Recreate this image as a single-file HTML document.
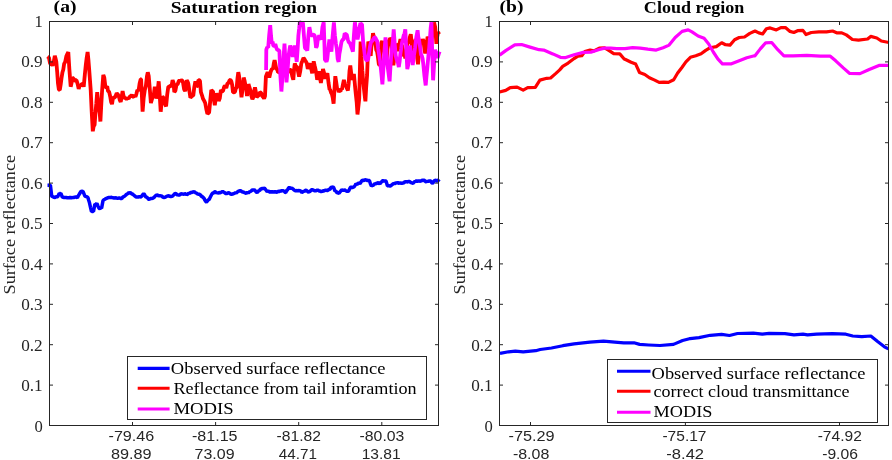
<!DOCTYPE html>
<html><head><meta charset="utf-8"><title>Surface reflectance</title>
<style>
html,body{margin:0;padding:0;background:#fff;}
body{width:892px;height:460px;overflow:hidden;}
svg{display:block;will-change:transform;opacity:0.999;}
text{font-family:"Liberation Serif",serif;fill:#262626;}
.ln{fill:none;stroke-width:3.5;stroke-linejoin:bevel;stroke-linecap:butt;}
.rn{stroke-width:3.2;stroke-linejoin:round;}
.yt{font-size:16px;}
.xt{font-family:"Liberation Sans",sans-serif;font-size:14.5px;}
.ti{font-size:17.6px;font-weight:bold;fill:#000;}
.yl{font-size:17.6px;}
.lg{font-size:17px;fill:#000;}
</style></head><body>
<svg width="892" height="460" viewBox="0 0 892 460">
<rect width="892" height="460" fill="#fff"/>
<path d="M47.5,185.2 L48.4,185.2 L49.4,185.1 L50.4,185.2 L51.7,196.0 L52.6,196.7 L53.5,197.0 L54.4,197.6 L55.3,197.3 L56.1,196.8 L57.0,196.8 L57.8,196.7 L59.2,193.3 L60.0,193.7 L60.9,193.3 L62.3,197.1 L63.2,197.3 L64.2,197.6 L65.2,197.4 L66.2,197.5 L67.2,197.7 L68.3,197.7 L69.3,197.8 L70.3,197.1 L71.3,197.9 L72.3,197.6 L73.3,197.4 L74.3,197.6 L75.3,197.0 L76.3,197.1 L77.4,197.8 L78.4,195.6 L79.4,194.0 L80.3,192.5 L81.1,191.3 L82.1,191.4 L83.0,191.3 L83.9,193.6 L84.8,196.0 L85.8,196.6 L86.8,196.7 L87.9,197.4 L88.7,200.2 L89.5,202.8 L90.5,207.3 L91.5,211.5 L92.5,211.3 L93.5,211.5 L94.9,204.1 L95.9,204.4 L96.9,203.4 L97.9,206.0 L98.9,208.1 L99.8,208.6 L100.7,207.9 L101.6,208.1 L103.0,200.7 L103.9,199.8 L104.8,199.3 L105.7,198.7 L106.6,198.2 L107.5,198.0 L108.4,197.4 L109.4,197.5 L110.4,197.4 L111.4,197.3 L112.4,197.8 L113.4,197.6 L114.4,198.3 L115.4,197.7 L116.5,198.0 L117.4,198.2 L118.3,198.3 L119.3,197.8 L120.2,198.4 L121.2,198.4 L122.0,198.4 L122.9,196.7 L123.7,196.7 L124.5,196.3 L125.6,195.3 L126.6,194.2 L127.6,193.7 L128.6,192.6 L129.6,193.0 L130.6,192.8 L131.6,193.9 L132.6,194.0 L133.6,195.0 L134.7,195.9 L135.7,196.8 L136.7,197.1 L137.6,197.1 L138.6,197.0 L139.5,196.4 L140.5,197.0 L141.4,196.7 L142.2,195.4 L142.9,194.5 L143.7,193.6 L144.6,194.7 L145.4,196.7 L146.5,197.0 L147.5,197.8 L148.5,199.2 L149.5,199.4 L150.4,198.4 L151.3,198.4 L152.2,198.7 L153.0,198.0 L153.9,197.7 L154.7,196.7 L155.6,195.7 L156.6,195.1 L157.6,194.9 L158.6,195.9 L159.6,195.7 L160.0,195.7 L161.0,195.9 L162.0,196.2 L163.0,197.3 L164.0,197.4 L165.1,197.3 L166.1,196.6 L167.1,196.2 L168.1,195.7 L169.1,196.0 L170.1,196.6 L171.1,196.4 L172.1,196.3 L173.0,195.6 L173.9,194.7 L174.8,193.6 L175.8,193.4 L176.9,194.7 L177.9,194.9 L178.9,194.9 L179.9,194.9 L180.9,193.8 L181.9,194.0 L182.9,194.0 L183.9,194.4 L184.9,193.6 L186.0,194.2 L187.0,194.4 L187.8,194.3 L188.7,193.1 L189.5,193.6 L190.3,192.6 L191.3,192.6 L192.4,192.1 L193.4,192.0 L194.4,191.7 L195.3,192.6 L196.2,193.0 L197.1,193.6 L197.9,194.3 L198.8,194.0 L199.6,194.4 L200.4,194.9 L201.3,196.1 L202.2,196.6 L203.1,197.4 L204.0,198.2 L204.8,200.0 L205.7,201.4 L206.5,202.1 L207.4,201.0 L208.3,199.8 L209.2,199.4 L210.1,197.5 L211.0,195.7 L211.9,194.0 L212.8,193.1 L213.7,193.0 L214.6,191.7 L215.4,191.7 L216.3,192.9 L217.1,192.5 L218.0,193.3 L218.9,192.6 L219.9,192.7 L220.8,192.5 L221.8,192.0 L222.7,191.3 L223.5,192.0 L224.4,192.5 L225.2,193.1 L226.1,193.6 L227.0,193.5 L227.9,192.9 L228.8,192.6 L229.7,193.3 L230.6,194.0 L231.5,194.4 L232.5,194.0 L233.5,193.8 L234.5,193.3 L235.5,192.6 L236.4,192.9 L237.4,191.9 L238.3,191.3 L239.3,190.9 L240.2,190.6 L241.2,191.1 L242.2,192.0 L243.3,192.0 L244.3,192.6 L245.3,192.9 L246.3,193.5 L247.3,192.0 L248.3,193.0 L249.3,191.9 L250.3,191.6 L251.3,190.9 L252.4,189.9 L253.4,190.0 L254.4,189.9 L255.3,190.7 L256.2,192.0 L257.1,192.6 L257.9,191.8 L258.8,190.6 L259.6,190.8 L260.4,189.0 L261.5,188.9 L262.5,188.4 L263.5,188.4 L264.5,188.2 L265.4,189.3 L266.3,190.5 L267.2,191.7 L268.1,190.8 L269.1,191.6 L270.0,192.2 L271.0,191.5 L271.9,192.0 L272.9,191.8 L274.0,192.1 L275.0,191.7 L276.0,192.0 L277.0,192.2 L278.0,191.1 L279.0,191.7 L279.9,191.2 L280.7,190.9 L281.6,190.9 L282.4,190.3 L283.3,191.2 L284.1,190.5 L284.9,192.3 L285.8,192.5 L286.7,190.5 L287.6,189.8 L288.5,188.0 L289.3,187.5 L290.2,188.1 L291.0,188.5 L291.9,188.0 L292.7,188.7 L293.5,189.4 L294.4,190.3 L295.2,190.7 L296.2,190.7 L297.2,190.5 L298.3,191.0 L299.3,190.3 L300.1,191.1 L301.0,191.1 L301.8,192.6 L302.6,192.1 L303.5,191.2 L304.3,191.4 L305.2,190.5 L306.0,190.1 L306.9,190.8 L307.8,191.6 L308.7,192.1 L309.5,191.6 L310.4,191.2 L311.2,189.8 L312.1,189.8 L312.9,189.6 L313.8,190.7 L314.6,190.5 L315.4,191.1 L316.3,190.5 L317.2,190.1 L318.1,190.3 L319.2,191.0 L320.2,191.1 L321.2,191.6 L322.2,191.4 L323.2,190.8 L324.2,190.9 L325.2,190.2 L326.2,190.3 L327.1,190.4 L327.9,190.4 L328.8,189.3 L329.6,189.4 L330.5,188.6 L331.4,186.7 L332.1,187.3 L332.9,187.1 L333.6,187.4 L335.0,191.1 L336.0,191.0 L337.0,192.8 L338.0,192.8 L339.0,193.4 L339.9,192.0 L340.8,191.1 L341.7,189.8 L342.6,190.1 L343.4,190.6 L344.3,189.8 L345.1,190.3 L346.0,190.9 L346.8,191.2 L347.6,191.4 L348.5,191.1 L349.5,189.2 L350.5,187.4 L351.3,187.0 L352.2,187.6 L353.0,187.2 L353.9,187.1 L354.9,185.6 L355.9,184.0 L356.9,184.4 L357.9,183.7 L358.9,182.9 L359.9,183.6 L360.8,182.4 L361.7,180.8 L362.6,180.3 L363.5,180.5 L364.3,180.3 L365.2,179.8 L366.0,179.9 L366.8,180.1 L367.7,180.6 L368.5,180.5 L369.4,180.6 L370.4,183.8 L371.4,186.0 L372.2,185.4 L373.1,185.2 L373.9,184.7 L374.8,183.6 L375.8,183.9 L376.8,182.9 L377.8,183.2 L378.8,182.6 L380.0,184.0 L380.8,182.5 L381.7,181.9 L382.5,180.8 L383.4,180.6 L384.3,181.2 L385.2,180.6 L386.1,181.3 L387.4,185.7 L388.3,185.8 L389.1,185.8 L389.9,185.9 L390.8,186.0 L391.7,184.9 L392.6,184.3 L393.5,183.3 L394.5,183.8 L395.5,183.0 L396.5,183.0 L397.5,182.6 L398.5,183.2 L399.5,183.0 L400.6,182.9 L401.6,183.6 L402.6,183.0 L403.6,183.1 L404.6,181.8 L405.6,182.0 L406.5,181.6 L407.3,182.0 L408.1,181.7 L409.0,181.3 L410.0,181.8 L411.0,182.6 L412.0,182.9 L413.0,183.3 L413.9,182.3 L414.7,181.6 L415.6,181.3 L416.4,180.9 L417.4,181.3 L418.4,180.9 L419.4,180.9 L420.4,181.3 L421.3,180.8 L422.1,180.3 L423.0,180.5 L423.8,180.3 L424.7,180.5 L425.6,181.6 L426.5,182.0 L427.4,180.9 L428.2,181.5 L429.0,180.9 L429.9,180.9 L430.8,181.0 L431.7,182.8 L432.6,183.3 L433.5,182.2 L434.4,180.6 L435.3,180.3 L436.3,180.5 L437.3,181.3 L438.3,180.4 L439.3,179.3" class="ln" stroke="#0000ff"/>
<path d="M47.5,56.5 L48.2,57.1 L48.9,57.4 L50.0,63.1 L51.1,65.0 L51.8,63.9 L52.6,65.7 L53.7,62.1 L54.8,55.7 L55.5,58.3 L56.3,61.7 L57.2,72.2 L58.0,83.5 L58.9,89.6 L59.8,90.0 L60.7,84.4 L61.5,78.3 L62.4,72.6 L63.3,69.4 L64.1,63.9 L65.2,61.8 L66.3,56.3 L67.3,54.1 L68.3,52.0 L69.3,68.3 L70.7,86.7 L71.5,83.3 L72.4,78.0 L73.4,78.2 L74.3,81.3 L75.4,80.2 L76.5,80.2 L77.6,83.9 L78.7,88.9 L79.8,85.3 L80.9,85.7 L81.8,83.8 L82.8,83.9 L83.7,86.7 L84.8,75.0 L85.9,63.9 L86.7,57.7 L87.6,52.0 L88.4,59.6 L89.1,68.3 L89.9,79.2 L90.7,90.0 L91.7,111.7 L92.8,131.3 L93.7,126.0 L94.6,124.8 L95.4,113.8 L96.3,103.4 L97.2,92.2 L98.0,100.9 L98.9,107.4 L99.7,113.2 L100.4,121.5 L101.2,106.2 L102.0,92.2 L103.3,74.8 L104.3,77.7 L105.4,86.7 L106.3,87.4 L107.2,86.3 L108.0,91.1 L109.1,91.7 L110.2,96.5 L111.1,102.0 L112.0,104.1 L113.0,97.6 L114.1,97.6 L115.0,97.4 L115.9,95.2 L116.7,93.3 L117.8,94.4 L118.9,96.5 L119.8,99.9 L120.7,102.0 L121.6,97.3 L122.6,91.1 L123.5,95.9 L124.3,97.6 L125.4,98.0 L126.5,99.1 L127.6,98.0 L128.7,98.7 L129.8,96.5 L130.9,96.1 L131.8,94.9 L132.8,96.6 L133.7,97.0 L134.6,94.9 L135.4,96.8 L136.3,94.3 L137.4,89.9 L138.5,91.1 L139.6,83.5 L140.7,79.1 L141.1,79.1 L141.8,94.0 L142.6,111.7 L143.7,97.7 L144.8,90.0 L145.9,85.8 L147.0,75.9 L147.8,72.3 L148.7,75.9 L149.8,89.0 L150.9,103.0 L152.0,99.0 L153.0,96.5 L153.9,94.1 L154.8,86.7 L155.7,89.7 L156.5,98.7 L157.6,91.6 L158.7,81.3 L159.7,95.4 L160.7,111.7 L161.5,103.9 L162.4,96.5 L163.4,97.7 L164.3,100.9 L165.2,104.5 L166.1,106.3 L167.2,94.8 L168.3,86.7 L169.1,86.6 L170.0,86.7 L170.9,85.1 L171.7,85.2 L172.6,80.2 L173.5,82.6 L174.3,92.2 L175.4,90.7 L176.5,84.6 L177.6,84.4 L178.7,81.3 L179.6,80.2 L180.4,81.0 L181.3,80.2 L182.2,80.6 L183.0,82.4 L184.1,89.2 L185.2,91.1 L186.0,86.0 L186.7,80.2 L187.5,81.5 L188.3,83.5 L189.3,90.2 L190.4,97.6 L191.4,96.6 L192.3,95.9 L193.3,95.4 L194.3,87.1 L195.4,81.3 L196.5,86.6 L197.6,85.7 L198.4,80.1 L199.1,80.2 L200.0,80.8 L200.9,92.2 L202.0,95.3 L203.0,98.7 L204.1,100.6 L205.2,103.0 L206.3,109.0 L207.4,113.9 L208.3,113.1 L209.1,112.8 L210.2,101.2 L211.3,90.0 L212.2,91.0 L213.0,91.1 L213.9,99.6 L214.8,105.2 L215.7,98.6 L216.5,93.3 L217.6,96.5 L218.7,100.9 L219.8,98.3 L220.9,90.0 L222.0,91.3 L223.0,91.1 L224.1,86.9 L225.2,85.7 L226.3,88.1 L227.4,83.5 L228.5,83.0 L229.6,80.2 L230.4,79.9 L231.3,81.3 L232.2,85.0 L233.0,92.2 L234.0,92.4 L235.0,91.7 L235.9,88.3 L236.7,87.4 L237.5,78.2 L238.3,72.2 L239.0,75.7 L239.8,83.0 L240.7,89.3 L241.5,97.2 L242.6,89.1 L243.7,77.6 L244.6,80.8 L245.4,85.2 L246.2,88.5 L247.0,96.1 L247.7,91.1 L248.5,84.1 L249.3,86.9 L250.2,89.6 L251.3,95.7 L252.4,99.3 L253.3,97.2 L254.1,91.1 L255.0,87.4 L255.9,92.1 L256.7,97.2 L257.8,96.0 L258.9,95.0 L260.0,92.2 L261.1,92.8 L262.2,96.0 L263.3,97.2 L264.1,98.7 L265.0,96.1 L265.9,76.5 L266.7,74.6 L267.6,72.2 L268.5,74.5 L269.3,77.6 L270.1,74.0 L270.9,71.1 L272.0,68.8 L273.0,68.9 L273.8,63.4 L274.6,60.2 L275.4,64.0 L276.3,68.9 L277.2,69.3 L278.0,72.2 L278.9,72.2 L279.8,71.3 L280.7,74.3 L281.5,73.8 L282.3,72.2 L283.1,69.4 L283.9,70.0 L284.7,67.4 L285.5,71.6 L286.4,74.1 L287.2,73.3 L288.2,71.3 L289.1,70.9 L290.1,70.0 L291.1,70.0 L292.2,75.9 L293.3,79.8 L294.0,70.3 L294.8,63.5 L295.9,66.6 L297.0,66.7 L298.0,71.2 L299.1,76.5 L300.2,71.4 L301.3,63.5 L302.4,60.8 L303.5,58.0 L304.6,59.3 L305.7,61.3 L306.7,62.9 L307.8,68.9 L308.9,65.2 L310.0,63.5 L311.1,68.0 L312.2,73.3 L312.9,68.3 L313.7,61.3 L314.6,65.5 L315.4,68.9 L316.3,73.3 L317.2,79.8 L318.3,76.0 L319.3,71.1 L320.1,78.5 L320.9,83.0 L322.0,75.8 L323.0,68.9 L324.1,73.1 L325.2,78.7 L326.3,75.4 L327.4,73.3 L328.5,82.6 L329.6,89.6 L330.0,89.3 L331.0,92.5 L331.9,94.1 L332.7,97.5 L333.6,103.7 L334.4,90.5 L335.3,76.2 L336.2,82.0 L337.2,89.3 L338.0,88.6 L338.8,92.0 L339.6,90.5 L340.4,91.4 L341.2,88.7 L342.0,89.3 L342.9,84.7 L343.9,79.8 L344.7,83.5 L345.5,85.8 L346.3,86.4 L347.1,88.8 L347.9,90.5 L348.7,83.2 L349.5,71.1 L350.3,65.4 L351.2,73.1 L352.0,79.8 L353.0,77.9 L353.9,73.8 L354.9,84.7 L355.8,94.1 L356.7,102.3 L357.5,114.5 L358.3,107.2 L359.2,98.9 L359.9,68.9 L360.6,41.5 L361.4,56.7 L362.3,70.2 L363.1,80.7 L364.0,89.3 L364.7,95.6 L365.4,101.3 L366.2,87.0 L367.1,75.0 L368.3,41.5 L369.1,45.4 L369.9,52.4 L370.7,55.9 L371.4,46.9 L372.2,41.5 L373.0,33.2 L373.8,36.7 L374.6,38.3 L375.4,41.5 L376.2,49.9 L377.0,51.2 L377.8,55.9 L378.8,63.9 L379.7,65.4 L380.6,51.1 L381.4,42.7 L382.2,40.9 L383.0,47.4 L383.8,47.5 L384.6,53.2 L385.4,56.6 L386.2,61.8 L387.0,55.0 L387.8,45.4 L388.6,41.5 L389.4,39.8 L390.2,38.4 L391.0,39.1 L391.8,47.6 L392.6,58.0 L393.4,65.4 L394.2,58.3 L395.0,51.6 L395.8,43.9 L396.6,45.3 L397.4,48.0 L398.1,51.1 L398.9,47.3 L399.7,42.7 L400.5,39.1 L401.3,45.0 L402.1,45.8 L402.9,51.1 L403.7,56.3 L404.5,54.4 L405.3,58.3 L406.1,54.7 L406.9,46.7 L407.7,42.7 L408.8,42.4 L409.8,37.3 L410.8,34.3 L411.6,42.1 L412.4,49.8 L413.2,55.9 L414.0,49.3 L414.8,43.1 L415.6,39.1 L416.4,44.5 L417.2,57.7 L418.0,64.2 L418.8,55.6 L419.6,48.2 L420.4,41.5 L421.2,40.7 L422.0,42.9 L422.8,39.1 L423.6,41.3 L424.4,49.1 L425.2,53.5 L426.0,47.3 L426.8,43.1 L427.6,36.7 L428.4,38.8 L429.2,45.7 L430.0,51.1 L430.7,46.8 L431.5,42.3 L432.3,34.3 L433.2,30.8 L434.0,22.4 L435.2,27.2 L436.4,43.9 L437.2,36.7 L438.1,32.0 L439.0,34.3" class="ln" stroke="#ff0000" style="stroke-width:3.8"/>
<path d="M266.1,70.1 L266.3,49.7 L267.2,47.1 L268.2,47.7 L269.2,34.9 L270.2,25.2 L271.0,35.3 L271.8,43.6 L272.6,41.6 L273.3,45.6 L274.3,46.1 L275.3,44.0 L276.3,47.7 L277.3,50.1 L278.4,50.0 L279.4,50.7 L280.4,76.2 L281.4,91.5 L282.2,80.5 L283.1,66.0 L283.8,54.1 L284.5,43.6 L285.7,66.0 L286.5,82.3 L287.6,69.6 L288.6,55.8 L289.4,50.3 L290.2,45.6 L291.0,48.4 L291.8,53.3 L292.7,56.8 L293.7,49.6 L294.7,45.6 L295.7,53.3 L296.7,61.9 L297.6,49.6 L298.4,35.4 L299.1,29.0 L299.8,22.3 L300.8,22.3 L301.8,25.2 L302.9,22.3 L303.9,35.4 L304.9,47.7 L305.7,48.7 L306.5,48.9 L307.3,50.7 L308.4,35.4 L309.4,27.2 L310.2,31.5 L311.0,35.4 L312.0,35.4 L312.9,34.7 L313.8,34.9 L314.7,35.4 L315.4,41.1 L316.1,47.7 L316.9,46.2 L317.8,39.5 L318.5,37.5 L319.2,35.4 L320.2,37.7 L321.2,39.5 L322.4,27.2 L323.7,22.3 L324.3,39.5 L324.9,59.9 L325.7,60.4 L326.5,61.8 L327.3,58.9 L328.4,47.7 L329.4,39.5 L330.4,45.3 L331.4,51.7 L332.7,35.4 L333.9,22.3 L334.9,35.4 L335.9,43.6 L336.8,48.9 L337.7,59.0 L338.6,61.9 L339.4,53.9 L340.2,49.7 L340.9,45.1 L341.6,41.5 L342.7,39.7 L343.7,39.1 L344.7,33.4 L345.7,34.2 L346.7,34.3 L347.8,39.5 L348.8,42.4 L349.8,42.9 L350.8,45.6 L351.8,48.2 L352.9,51.7 L353.9,35.4 L354.9,22.3 L355.6,27.4 L356.3,31.3 L357.6,39.5 L358.4,34.7 L359.2,29.3 L360.4,23.2 L361.2,24.1 L362.0,24.2 L363.1,41.5 L364.1,49.1 L365.1,57.9 L366.1,59.9 L367.1,60.5 L368.2,58.9 L369.0,53.3 L369.8,47.7 L370.5,44.0 L371.2,41.5 L372.2,41.1 L373.3,39.4 L374.3,37.4 L375.3,37.5 L376.3,39.6 L377.3,41.5 L378.2,49.0 L379.0,53.8 L379.7,58.8 L380.4,64.0 L381.4,73.8 L382.4,84.4 L383.3,70.4 L384.1,55.8 L384.8,46.6 L385.5,37.4 L386.5,53.8 L387.6,66.0 L388.6,73.7 L389.6,81.3 L390.6,64.0 L391.6,51.7 L392.7,42.8 L393.7,29.3 L394.7,43.6 L395.7,55.8 L396.7,59.8 L397.8,62.2 L398.8,67.0 L399.6,61.7 L400.4,53.8 L401.1,49.1 L401.8,43.6 L402.8,39.5 L403.7,35.4 L404.5,33.7 L405.3,29.3 L406.3,49.7 L407.3,69.1 L408.1,65.4 L408.8,55.8 L410.0,45.6 L410.7,51.4 L411.4,55.8 L412.7,65.0 L413.9,55.8 L415.1,47.7 L416.3,37.4 L417.6,30.3 L418.3,37.0 L419.0,39.5 L420.2,47.7 L421.0,54.5 L421.8,55.8 L422.6,58.6 L423.3,64.0 L424.5,76.2 L425.7,85.4 L426.4,77.1 L427.1,70.1 L428.4,55.8 L429.2,47.6 L430.0,37.4 L430.7,27.7 L431.4,22.3 L432.2,51.7 L433.1,80.3 L434.1,64.0 L435.1,49.7 L436.3,53.8 L437.6,57.9 L438.6,54.4 L439.6,51.7" class="ln" stroke="#ff00ff" style="stroke-width:3.8"/>
<rect x="49.5" y="21.5" width="389" height="404" fill="none" stroke="#262626" stroke-width="1"/>
<path d="M49.5,425.5 h3.5 M438.5,425.5 h-3.5" stroke="#262626" stroke-width="1" fill="none"/>
<text x="34.4" y="431.7" class="yt" textLength="8.3" lengthAdjust="spacingAndGlyphs">0</text>
<path d="M49.5,385.1 h3.5 M438.5,385.1 h-3.5" stroke="#262626" stroke-width="1" fill="none"/>
<text x="21.2" y="391.2" class="yt" textLength="21.5" lengthAdjust="spacingAndGlyphs">0.1</text>
<path d="M49.5,344.7 h3.5 M438.5,344.7 h-3.5" stroke="#262626" stroke-width="1" fill="none"/>
<text x="21.2" y="350.7" class="yt" textLength="21.5" lengthAdjust="spacingAndGlyphs">0.2</text>
<path d="M49.5,304.3 h3.5 M438.5,304.3 h-3.5" stroke="#262626" stroke-width="1" fill="none"/>
<text x="21.2" y="310.2" class="yt" textLength="21.5" lengthAdjust="spacingAndGlyphs">0.3</text>
<path d="M49.5,263.9 h3.5 M438.5,263.9 h-3.5" stroke="#262626" stroke-width="1" fill="none"/>
<text x="21.2" y="269.7" class="yt" textLength="21.5" lengthAdjust="spacingAndGlyphs">0.4</text>
<path d="M49.5,223.5 h3.5 M438.5,223.5 h-3.5" stroke="#262626" stroke-width="1" fill="none"/>
<text x="21.2" y="229.2" class="yt" textLength="21.5" lengthAdjust="spacingAndGlyphs">0.5</text>
<path d="M49.5,183.1 h3.5 M438.5,183.1 h-3.5" stroke="#262626" stroke-width="1" fill="none"/>
<text x="21.2" y="188.7" class="yt" textLength="21.5" lengthAdjust="spacingAndGlyphs">0.6</text>
<path d="M49.5,142.7 h3.5 M438.5,142.7 h-3.5" stroke="#262626" stroke-width="1" fill="none"/>
<text x="21.2" y="148.2" class="yt" textLength="21.5" lengthAdjust="spacingAndGlyphs">0.7</text>
<path d="M49.5,102.3 h3.5 M438.5,102.3 h-3.5" stroke="#262626" stroke-width="1" fill="none"/>
<text x="21.2" y="107.7" class="yt" textLength="21.5" lengthAdjust="spacingAndGlyphs">0.8</text>
<path d="M49.5,61.9 h3.5 M438.5,61.9 h-3.5" stroke="#262626" stroke-width="1" fill="none"/>
<text x="21.2" y="67.2" class="yt" textLength="21.5" lengthAdjust="spacingAndGlyphs">0.9</text>
<path d="M49.5,21.5 h3.5 M438.5,21.5 h-3.5" stroke="#262626" stroke-width="1" fill="none"/>
<text x="34.4" y="26.7" class="yt" textLength="8.3" lengthAdjust="spacingAndGlyphs">1</text>
<path d="M132.5,425.5 v-3.5 M132.5,21.5 v3.5" stroke="#262626" stroke-width="1" fill="none"/>
<path d="M215.6,425.5 v-3.5 M215.6,21.5 v3.5" stroke="#262626" stroke-width="1" fill="none"/>
<path d="M298.7,425.5 v-3.5 M298.7,21.5 v3.5" stroke="#262626" stroke-width="1" fill="none"/>
<path d="M381.8,425.5 v-3.5 M381.8,21.5 v3.5" stroke="#262626" stroke-width="1" fill="none"/>
<path d="M500.0,353.4 L508.6,351.8 L515.3,351.1 L523.2,351.8 L535.7,350.7 L540.2,349.5 L551.5,348.0 L562.8,345.7 L574.1,343.9 L589.9,342.1 L603.5,341.2 L614.8,342.1 L623.8,342.8 L634.0,342.8 L639.6,344.4 L648.7,345.0 L660.0,345.5 L673.5,344.4 L682.6,340.5 L689.4,338.7 L690.0,338.7 L699.0,337.6 L710.3,335.3 L721.6,334.4 L729.5,335.5 L737.5,333.5 L753.3,333.1 L762.3,334.2 L769.1,333.3 L784.9,333.7 L794.0,334.9 L803.0,334.2 L807.5,334.9 L816.6,334.2 L832.4,333.7 L845.9,334.2 L852.7,336.0 L861.8,336.7 L870.8,336.0 L877.6,341.6 L884.4,346.8 L888.4,348.9" class="ln rn" stroke="#0000ff"/>
<path d="M499.6,92.0 L505.7,90.4 L510.2,87.7 L517.1,87.1 L523.2,90.1 L527.7,87.7 L535.3,87.4 L539.9,80.1 L546.8,78.3 L550.6,78.0 L555.9,73.4 L559.7,69.9 L562.7,66.4 L568.1,63.1 L574.1,58.5 L578.0,56.2 L581.8,55.7 L584.8,51.6 L590.1,50.1 L593.9,50.9 L599.3,48.1 L604.6,47.8 L609.2,50.6 L613.7,53.6 L619.8,53.9 L624.4,59.2 L625.0,59.3 L631.1,62.3 L635.7,64.1 L639.5,72.5 L644.8,74.5 L649.4,77.8 L654.7,80.1 L659.2,82.4 L663.8,82.1 L668.4,82.4 L673.7,79.7 L677.5,73.3 L682.1,67.2 L685.9,61.9 L690.4,57.3 L695.8,55.8 L701.1,53.8 L705.7,50.4 L710.2,47.7 L716.3,46.6 L721.7,42.8 L725.5,44.7 L730.0,45.1 L734.6,39.8 L739.2,37.5 L744.5,37.0 L749.8,33.4 L754.4,31.3 L755.0,31.0 L758.8,32.9 L762.6,34.0 L766.4,28.8 L770.2,27.9 L776.3,29.9 L780.9,27.6 L785.4,27.6 L790.0,31.4 L793.8,32.5 L797.6,30.7 L802.9,30.4 L806.0,34.5 L811.3,32.5 L818.9,31.9 L826.5,31.9 L832.6,31.0 L837.2,32.9 L841.8,32.9 L846.3,34.9 L852.4,39.5 L858.5,40.1 L867.6,39.0 L870.7,36.4 L876.8,38.0 L881.3,41.0 L888.9,42.5" class="ln rn" stroke="#ff0000"/>
<path d="M499.6,55.1 L505.7,50.6 L514.8,44.8 L521.6,44.5 L530.0,47.1 L539.1,49.7 L543.7,50.1 L552.8,53.9 L560.4,57.3 L565.0,57.7 L574.1,54.7 L583.3,52.4 L590.9,52.1 L598.5,49.7 L604.6,48.1 L610.7,48.1 L616.8,48.6 L624.4,48.6 L625.0,48.6 L632.6,47.7 L640.2,48.2 L647.8,49.2 L656.2,50.1 L663.1,47.7 L669.1,45.1 L675.2,37.5 L682.1,31.4 L688.2,29.9 L692.0,31.9 L698.1,36.0 L704.1,38.3 L708.7,44.0 L713.3,52.0 L717.8,58.8 L722.4,63.8 L731.5,63.8 L739.2,60.8 L746.8,57.7 L754.4,55.8 L755.0,55.8 L760.3,48.9 L765.7,42.8 L771.7,42.5 L777.8,49.7 L783.9,55.8 L793.1,55.8 L806.8,55.3 L820.4,56.2 L830.3,56.2 L835.7,60.8 L843.3,67.9 L849.4,73.3 L860.0,73.6 L869.2,69.5 L879.0,65.4 L888.9,65.4" class="ln rn" stroke="#ff00ff"/>
<rect x="499.5" y="21.5" width="389" height="404" fill="none" stroke="#262626" stroke-width="1"/>
<path d="M499.5,425.5 h3.5 M888.5,425.5 h-3.5" stroke="#262626" stroke-width="1" fill="none"/>
<text x="484.4" y="431.7" class="yt" textLength="8.3" lengthAdjust="spacingAndGlyphs">0</text>
<path d="M499.5,385.1 h3.5 M888.5,385.1 h-3.5" stroke="#262626" stroke-width="1" fill="none"/>
<text x="471.2" y="391.2" class="yt" textLength="21.5" lengthAdjust="spacingAndGlyphs">0.1</text>
<path d="M499.5,344.7 h3.5 M888.5,344.7 h-3.5" stroke="#262626" stroke-width="1" fill="none"/>
<text x="471.2" y="350.7" class="yt" textLength="21.5" lengthAdjust="spacingAndGlyphs">0.2</text>
<path d="M499.5,304.3 h3.5 M888.5,304.3 h-3.5" stroke="#262626" stroke-width="1" fill="none"/>
<text x="471.2" y="310.2" class="yt" textLength="21.5" lengthAdjust="spacingAndGlyphs">0.3</text>
<path d="M499.5,263.9 h3.5 M888.5,263.9 h-3.5" stroke="#262626" stroke-width="1" fill="none"/>
<text x="471.2" y="269.7" class="yt" textLength="21.5" lengthAdjust="spacingAndGlyphs">0.4</text>
<path d="M499.5,223.5 h3.5 M888.5,223.5 h-3.5" stroke="#262626" stroke-width="1" fill="none"/>
<text x="471.2" y="229.2" class="yt" textLength="21.5" lengthAdjust="spacingAndGlyphs">0.5</text>
<path d="M499.5,183.1 h3.5 M888.5,183.1 h-3.5" stroke="#262626" stroke-width="1" fill="none"/>
<text x="471.2" y="188.7" class="yt" textLength="21.5" lengthAdjust="spacingAndGlyphs">0.6</text>
<path d="M499.5,142.7 h3.5 M888.5,142.7 h-3.5" stroke="#262626" stroke-width="1" fill="none"/>
<text x="471.2" y="148.2" class="yt" textLength="21.5" lengthAdjust="spacingAndGlyphs">0.7</text>
<path d="M499.5,102.3 h3.5 M888.5,102.3 h-3.5" stroke="#262626" stroke-width="1" fill="none"/>
<text x="471.2" y="107.7" class="yt" textLength="21.5" lengthAdjust="spacingAndGlyphs">0.8</text>
<path d="M499.5,61.9 h3.5 M888.5,61.9 h-3.5" stroke="#262626" stroke-width="1" fill="none"/>
<text x="471.2" y="67.2" class="yt" textLength="21.5" lengthAdjust="spacingAndGlyphs">0.9</text>
<path d="M499.5,21.5 h3.5 M888.5,21.5 h-3.5" stroke="#262626" stroke-width="1" fill="none"/>
<text x="484.4" y="26.7" class="yt" textLength="8.3" lengthAdjust="spacingAndGlyphs">1</text>
<path d="M530.5,425.5 v-3.5 M530.5,21.5 v3.5" stroke="#262626" stroke-width="1" fill="none"/>
<path d="M685.4,425.5 v-3.5 M685.4,21.5 v3.5" stroke="#262626" stroke-width="1" fill="none"/>
<path d="M839.5,425.5 v-3.5 M839.5,21.5 v3.5" stroke="#262626" stroke-width="1" fill="none"/>
<text transform="translate(15.3,224.7) rotate(-90)" text-anchor="middle" class="yl" textLength="139.5" lengthAdjust="spacingAndGlyphs">Surface reflectance</text>
<text transform="translate(465.3,224.7) rotate(-90)" text-anchor="middle" class="yl" textLength="139.5" lengthAdjust="spacingAndGlyphs">Surface reflectance</text>
<rect x="127.5" y="356.5" width="299.0" height="63.0" fill="#fff" stroke="#262626" stroke-width="1"/>
<path d="M137.7,368.4 H169.6" stroke="#0000ff" stroke-width="3.1" fill="none"/>
<path d="M137.7,388.3 H169.6" stroke="#ff0000" stroke-width="3.1" fill="none"/>
<path d="M137.7,409 H169.6" stroke="#ff00ff" stroke-width="3.1" fill="none"/>
<rect x="607.5" y="359.5" width="270.0" height="63.0" fill="#fff" stroke="#262626" stroke-width="1"/>
<path d="M617,371.3 H650.5" stroke="#0000ff" stroke-width="3.1" fill="none"/>
<path d="M617,391.3 H650.5" stroke="#ff0000" stroke-width="3.1" fill="none"/>
<path d="M617,412.3 H650.5" stroke="#ff00ff" stroke-width="3.1" fill="none"/>
<text x="170.78" y="13.0" class="ti" textLength="146.20" lengthAdjust="spacingAndGlyphs">Saturation region</text>
<text x="643.86" y="13.0" class="ti" textLength="100.46" lengthAdjust="spacingAndGlyphs">Cloud region</text>
<text x="53.60" y="12.2" class="ti" textLength="22.96" lengthAdjust="spacingAndGlyphs">(a)</text>
<text x="499.52" y="12.2" class="ti" textLength="23.96" lengthAdjust="spacingAndGlyphs">(b)</text>
<text x="170.86" y="373.9" class="lg" textLength="214.54" lengthAdjust="spacingAndGlyphs">Observed surface reflectance</text>
<text x="173.44" y="393.7" class="lg" textLength="243.20" lengthAdjust="spacingAndGlyphs">Reflectance from tail inforamtion</text>
<text x="173.44" y="413.5" class="lg" textLength="60.20" lengthAdjust="spacingAndGlyphs">MODIS</text>
<text x="651.58" y="378.7" class="lg" textLength="213.82" lengthAdjust="spacingAndGlyphs">Observed surface reflectance</text>
<text x="653.62" y="396.7" class="lg" textLength="195.82" lengthAdjust="spacingAndGlyphs">correct cloud transmittance</text>
<text x="653.62" y="416.6" class="lg" textLength="58.76" lengthAdjust="spacingAndGlyphs">MODIS</text>
<text x="108.52" y="440.7" class="xt" textLength="45.80" lengthAdjust="spacingAndGlyphs">-79.46</text>
<text x="111.02" y="458.8" class="xt" textLength="40.62" lengthAdjust="spacingAndGlyphs">89.89</text>
<text x="192.02" y="440.7" class="xt" textLength="45.54" lengthAdjust="spacingAndGlyphs">-81.15</text>
<text x="194.60" y="458.8" class="xt" textLength="39.96" lengthAdjust="spacingAndGlyphs">73.09</text>
<text x="276.60" y="440.7" class="xt" textLength="44.38" lengthAdjust="spacingAndGlyphs">-81.82</text>
<text x="278.84" y="458.8" class="xt" textLength="38.14" lengthAdjust="spacingAndGlyphs">44.71</text>
<text x="359.60" y="440.7" class="xt" textLength="44.72" lengthAdjust="spacingAndGlyphs">-80.03</text>
<text x="361.70" y="458.8" class="xt" textLength="38.94" lengthAdjust="spacingAndGlyphs">13.81</text>
<text x="508.52" y="440.7" class="xt" textLength="46.12" lengthAdjust="spacingAndGlyphs">-75.29</text>
<text x="512.94" y="458.8" class="xt" textLength="36.38" lengthAdjust="spacingAndGlyphs">-8.08</text>
<text x="662.44" y="440.7" class="xt" textLength="44.04" lengthAdjust="spacingAndGlyphs">-75.17</text>
<text x="666.36" y="458.8" class="xt" textLength="37.70" lengthAdjust="spacingAndGlyphs">-8.42</text>
<text x="817.68" y="440.7" class="xt" textLength="44.14" lengthAdjust="spacingAndGlyphs">-74.92</text>
<text x="822.18" y="458.8" class="xt" textLength="35.72" lengthAdjust="spacingAndGlyphs">-9.06</text>
</svg>
</body></html>
